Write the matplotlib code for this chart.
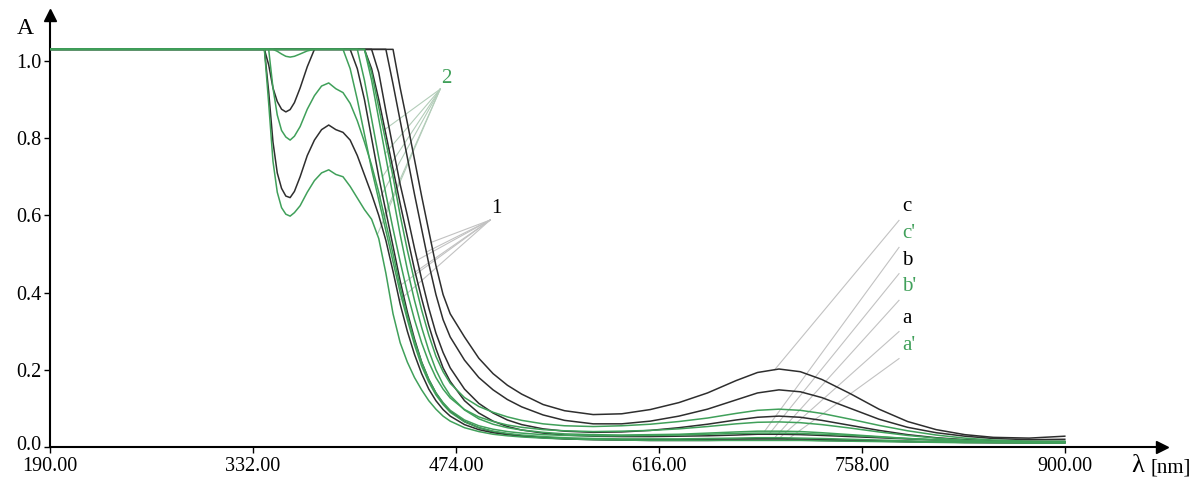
import matplotlib
matplotlib.use("Agg")
import matplotlib.pyplot as plt
import matplotlib.transforms as mtransforms
import numpy as np

plt.rcParams["font.family"] = ["Liberation Serif", "DejaVu Serif"]

# wavelength grid (nm)
wl = [190, 335, 340, 343, 346, 349, 352, 355, 358, 361,
      365, 370, 375, 380, 385, 390, 395, 400, 405, 410,
      415, 420, 425, 430, 435, 440, 445, 450, 455, 460,
      465, 470, 480, 490, 500, 510, 520, 535, 550, 570,
      590, 610, 630, 650, 670, 685, 700, 715, 730, 750,
      770, 790, 810, 830, 850, 875, 900]

# black spectra (series 1)
abs_c = [1.03, 1.03, 1.03, 1.03, 1.03, 1.03, 1.03, 1.03, 1.03, 1.03,
         1.03, 1.03, 1.03, 1.03, 1.03, 1.03, 1.03, 1.03, 1.03, 1.03,
         1.03, 1.03, 1.03, 1.03, 0.93, 0.84, 0.745, 0.65, 0.56, 0.47,
         0.395, 0.345, 0.285, 0.23, 0.19, 0.16, 0.137, 0.11, 0.094, 0.084,
         0.086, 0.097, 0.115, 0.14, 0.172, 0.193, 0.202, 0.195, 0.175, 0.138,
         0.098, 0.066, 0.045, 0.032, 0.025, 0.023, 0.028]
abs_b = [1.03, 1.03, 1.03, 1.03, 1.03, 1.03, 1.03, 1.03, 1.03, 1.03,
         1.03, 1.03, 1.03, 1.03, 1.03, 1.03, 1.03, 1.03, 1.03, 1.03,
         1.03, 1.03, 1.03, 0.94, 0.845, 0.75, 0.655, 0.565, 0.475, 0.395,
         0.33, 0.285, 0.225, 0.18, 0.148, 0.123, 0.104, 0.083, 0.069, 0.06,
         0.06, 0.067, 0.08, 0.098, 0.122, 0.14, 0.148, 0.143, 0.128, 0.1,
         0.072, 0.051, 0.037, 0.028, 0.022, 0.019, 0.02]
abs_a = [1.03, 1.03, 1.03, 1.03, 1.03, 1.03, 1.03, 1.03, 1.03, 1.03,
         1.03, 1.03, 1.03, 1.03, 1.03, 1.03, 1.03, 1.03, 1.03, 1.03,
         1.03, 0.97, 0.87, 0.775, 0.68, 0.6, 0.515, 0.435, 0.36, 0.295,
         0.245, 0.205, 0.15, 0.113, 0.088, 0.07, 0.058, 0.047, 0.041, 0.038,
         0.039, 0.043, 0.05, 0.059, 0.07, 0.077, 0.08, 0.077, 0.069, 0.056,
         0.043, 0.032, 0.024, 0.019, 0.016, 0.014, 0.014]
abs_k4 = [1.03, 1.03, 1.03, 0.99, 0.93, 0.895, 0.875, 0.868, 0.874, 0.892,
          0.93, 0.985, 1.03, 1.03, 1.03, 1.03, 1.03, 1.03, 1.03, 1.03,
          0.98, 0.9, 0.81, 0.72, 0.63, 0.545, 0.46, 0.385, 0.315, 0.255,
          0.205, 0.17, 0.12, 0.088, 0.067, 0.053, 0.044, 0.036, 0.031, 0.028,
          0.027, 0.027, 0.028, 0.029, 0.031, 0.033, 0.033, 0.032, 0.03, 0.027,
          0.024, 0.021, 0.018, 0.016, 0.015, 0.014, 0.014]
abs_k5 = [1.03, 1.03, 1.03, 1.03, 1.03, 1.03, 1.03, 1.03, 1.03, 1.03,
          1.03, 1.03, 1.03, 1.03, 1.03, 1.03, 1.03, 1.03, 0.98, 0.9,
          0.8, 0.7, 0.61, 0.52, 0.43, 0.35, 0.28, 0.22, 0.175, 0.14,
          0.113, 0.093, 0.066, 0.05, 0.04, 0.034, 0.029, 0.025, 0.022, 0.02,
          0.019, 0.019, 0.019, 0.02, 0.021, 0.022, 0.022, 0.021, 0.02, 0.018,
          0.016, 0.014, 0.013, 0.012, 0.011, 0.011, 0.011]
abs_k6 = [1.03, 1.03, 1.03, 0.92, 0.79, 0.71, 0.67, 0.65, 0.646, 0.662,
          0.7, 0.755, 0.795, 0.822, 0.834, 0.822, 0.815, 0.795, 0.755, 0.705,
          0.655, 0.6, 0.535, 0.455, 0.37, 0.3, 0.24, 0.19, 0.15, 0.12,
          0.097, 0.08, 0.058, 0.045, 0.037, 0.032, 0.028, 0.024, 0.021, 0.019,
          0.018, 0.017, 0.017, 0.017, 0.018, 0.018, 0.018, 0.018, 0.017, 0.016,
          0.015, 0.014, 0.013, 0.012, 0.012, 0.011, 0.011]

# green spectra (series 2)
abs_g1 = [1.03, 1.03, 1.03, 1.03, 1.03, 1.025, 1.018, 1.012, 1.01, 1.012,
          1.018, 1.026, 1.03, 1.03, 1.03, 1.03, 1.03, 0.98, 0.9, 0.81,
          0.72, 0.64, 0.56, 0.48, 0.4, 0.33, 0.265, 0.21, 0.168, 0.135,
          0.11, 0.09, 0.065, 0.05, 0.041, 0.035, 0.031, 0.027, 0.024, 0.022,
          0.021, 0.021, 0.021, 0.022, 0.023, 0.024, 0.024, 0.023, 0.022, 0.02,
          0.018, 0.016, 0.014, 0.013, 0.012, 0.012, 0.012]
abs_g2 = [1.03, 1.03, 1.03, 1.03, 0.93, 0.86, 0.82, 0.803, 0.795, 0.805,
          0.83, 0.875, 0.91, 0.935, 0.943, 0.928, 0.918, 0.89, 0.845, 0.79,
          0.73, 0.66, 0.58, 0.5, 0.415, 0.34, 0.275, 0.22, 0.175, 0.14,
          0.115, 0.095, 0.07, 0.055, 0.046, 0.04, 0.036, 0.032, 0.03, 0.029,
          0.029, 0.03, 0.031, 0.033, 0.035, 0.036, 0.036, 0.035, 0.033, 0.03,
          0.026, 0.022, 0.019, 0.016, 0.014, 0.013, 0.013]
abs_g3 = [1.03, 1.03, 1.03, 0.89, 0.74, 0.66, 0.62, 0.603, 0.598, 0.607,
          0.625, 0.66, 0.69, 0.71, 0.718, 0.706, 0.7, 0.675, 0.645, 0.615,
          0.59, 0.54, 0.45, 0.345, 0.27, 0.22, 0.18, 0.148, 0.12, 0.098,
          0.08, 0.067, 0.05, 0.04, 0.033, 0.029, 0.026, 0.023, 0.021, 0.019,
          0.018, 0.017, 0.017, 0.017, 0.017, 0.017, 0.017, 0.017, 0.016, 0.015,
          0.014, 0.013, 0.012, 0.011, 0.011, 0.01, 0.01]
abs_bp = [1.03, 1.03, 1.03, 1.03, 1.03, 1.03, 1.03, 1.03, 1.03, 1.03,
          1.03, 1.03, 1.03, 1.03, 1.03, 1.03, 1.03, 1.03, 1.03, 0.95,
          0.85, 0.75, 0.655, 0.565, 0.48, 0.4, 0.33, 0.27, 0.22, 0.18,
          0.15, 0.127, 0.097, 0.078, 0.066, 0.057, 0.051, 0.045, 0.042, 0.04,
          0.041, 0.043, 0.047, 0.053, 0.06, 0.064, 0.065, 0.063, 0.058, 0.049,
          0.039, 0.03, 0.023, 0.018, 0.015, 0.013, 0.013]
abs_ap = [1.03, 1.03, 1.03, 1.03, 1.03, 1.03, 1.03, 1.03, 1.03, 1.03,
          1.03, 1.03, 1.03, 1.03, 1.03, 1.03, 1.03, 1.03, 1.03, 1.03,
          0.95, 0.85, 0.75, 0.65, 0.55, 0.46, 0.38, 0.31, 0.25, 0.2,
          0.162, 0.133, 0.096, 0.073, 0.059, 0.05, 0.044, 0.038, 0.034, 0.032,
          0.031, 0.032, 0.033, 0.036, 0.039, 0.041, 0.041, 0.04, 0.037, 0.032,
          0.027, 0.022, 0.018, 0.015, 0.013, 0.012, 0.012]
abs_cp = [1.03, 1.03, 1.03, 1.03, 1.03, 1.03, 1.03, 1.03, 1.03, 1.03,
          1.03, 1.03, 1.03, 1.03, 1.03, 1.03, 1.03, 1.03, 1.03, 1.03,
          0.97, 0.88, 0.79, 0.7, 0.6, 0.51, 0.43, 0.355, 0.29, 0.235,
          0.195, 0.165, 0.128, 0.105, 0.09, 0.078, 0.069, 0.06, 0.055, 0.053,
          0.055, 0.059, 0.066, 0.075, 0.087, 0.095, 0.098, 0.095, 0.087, 0.072,
          0.056, 0.042, 0.031, 0.023, 0.018, 0.015, 0.015]

black_curves = [abs_c, abs_b, abs_a, abs_k4, abs_k5, abs_k6]
green_curves = [abs_g1, abs_g2, abs_g3, abs_bp, abs_ap, abs_cp]

x_ticks = [190, 332, 474, 616, 758, 900]
y_ticks = [0.0, 0.2, 0.4, 0.6, 0.8, 1.0]

BLACK = "#2e2e2e"
GREEN = "#40a05a"
LEAD_K = "#c2c2c2"
LEAD_G = "#b3cdb9"

wl = np.array(wl)


def wl_at(curve, level, lo=400, hi=520):
    # wavelength where the falling edge of a curve reaches a given absorbance
    y = np.array(curve)
    m = (wl >= lo) & (wl <= hi)
    return np.interp(level, y[m][::-1], wl[m][::-1])


def a_at(curve, x):
    return np.interp(x, wl, curve)


fig = plt.figure(figsize=(12.01, 4.83), dpi=100)
ax = fig.add_axes([50 / 1201, 36 / 483, 1112 / 1201, 432 / 483])
ax.set_xlim(190, 968)
ax.set_ylim(0, 1.119)

for y in black_curves:
    ax.plot(wl, y, color=BLACK, lw=1.1, zorder=3)
for y in green_curves:
    ax.plot(wl, y, color=GREEN, lw=1.1, zorder=4)

# leader lines for group "1" (black)
hub1 = (498, 0.588)
for curve, lev in zip([abs_c, abs_b, abs_a, abs_k4, abs_k5, abs_k6],
                      [0.53, 0.505, 0.484, 0.453, 0.42, 0.38]):
    ax.plot([hub1[0], wl_at(curve, lev)], [hub1[1], lev],
            color=LEAD_K, lw=0.8, zorder=2)
ax.text(hub1[0] + 0.5, hub1[1] + 0.004, "1", fontsize=15, color="black",
        ha="left", va="bottom")

# leader lines for group "2" (green)
hub2 = (463, 0.927)
for curve, lev in zip([abs_cp, abs_ap, abs_bp, abs_g1, abs_g2, abs_g3],
                      [0.82, 0.76, 0.70, 0.64, 0.60, 0.55]):
    ax.plot([hub2[0], wl_at(curve, lev)], [hub2[1], lev],
            color=LEAD_G, lw=0.8, zorder=2)
ax.text(hub2[0] + 0.5, hub2[1] + 0.004, "2", fontsize=15, color=GREEN,
        ha="left", va="bottom")

# letter labels at the right
letters = ["c", "c'", "b", "b'", "a", "a'"]
letter_colors = ["black", GREEN, "black", GREEN, "black", GREEN]
letter_y = [0.622, 0.552, 0.484, 0.415, 0.334, 0.264]
letter_curves = [abs_c, abs_ap, abs_k4, abs_g1, abs_k5, abs_g3]
letter_wl = [697, 690, 693, 697, 700, 705]
for lab, col, ly, curve, lx in zip(letters, letter_colors, letter_y,
                                   letter_curves, letter_wl):
    ax.text(786, ly, lab, fontsize=15, color=col, ha="left", va="center")
    ax.plot([784, lx], [ly - 0.035, a_at(curve, lx)],
            color=LEAD_K, lw=0.8, zorder=2)

# axes styling
for s in ["top", "right"]:
    ax.spines[s].set_visible(False)
for s in ["left", "bottom"]:
    ax.spines[s].set_linewidth(1.5)
    ax.spines[s].set_color("black")
ax.set_xticks(x_ticks)
ax.set_xticklabels([f"{t:.2f}" for t in x_ticks])
ax.set_yticks(y_ticks)
ax.set_yticklabels([f"{t:.1f}" for t in y_ticks])
ax.tick_params(direction="out", length=4, width=1, labelsize=14.5, pad=2)
ax.tick_params(axis="x", pad=3)

# lift the "0.0" label a little so it clears "190.00"
zero_lbl = ax.get_yticklabels()[0]
zero_lbl.set_transform(zero_lbl.get_transform() +
                       mtransforms.ScaledTranslation(0, 4 / 100, fig.dpi_scale_trans))

# arrow heads on the axes
ax.plot(1, 0, marker=">", ms=9, color="black", transform=ax.transAxes,
        clip_on=False, zorder=6)
ax.plot(0, 1, marker="^", ms=9, color="black", transform=ax.transAxes,
        clip_on=False, zorder=6)

fig.text(25 / 1201, 1 - 29 / 483, "A", fontsize=17, ha="center", va="center")
fig.text(1131 / 1201, 1 - 466 / 483, "\u03bb", fontsize=19, ha="left", va="center")
fig.text(1150 / 1201, 1 - 468 / 483, "[nm]", fontsize=15, ha="left", va="center")

fig.savefig("out.png", dpi=100)
